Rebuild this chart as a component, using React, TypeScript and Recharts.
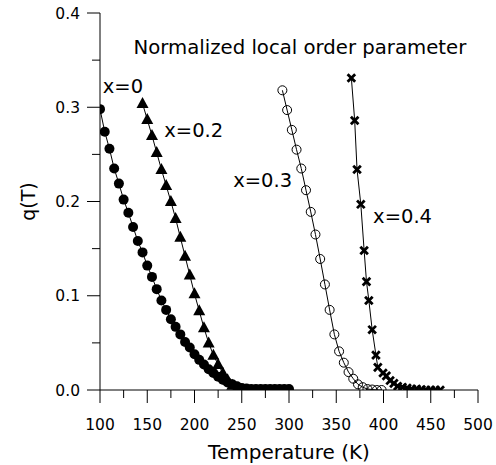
import React from "react";
import { LineChart, Line, XAxis, YAxis, ReferenceDot } from "recharts";

// temperature (K) and q(T) per composition
const x0Temp = [100, 105, 110, 115, 120, 125, 130, 135, 140, 145, 150, 155, 160, 165, 170, 175, 180, 185, 190, 195, 200, 205, 210, 215, 220, 225, 230, 235, 240, 245, 250, 255, 260, 265, 270, 275, 280, 285, 290, 295, 300];
const x0Q = [0.298, 0.274, 0.256, 0.235, 0.219, 0.202, 0.188, 0.173, 0.158, 0.146, 0.132, 0.12, 0.107, 0.095, 0.085, 0.075, 0.067, 0.059, 0.051, 0.045, 0.038, 0.032, 0.027, 0.022, 0.018, 0.014, 0.011, 0.008, 0.006, 0.004, 0.002, 0.0015, 0.001, 0.001, 0.001, 0.001, 0.001, 0.001, 0.001, 0.001, 0.001];

const x02Temp = [145, 150, 155, 160, 165, 170, 175, 180, 185, 190, 195, 200, 205, 210, 215, 220, 225, 230, 235, 240, 245];
const x02Q = [0.304, 0.287, 0.27, 0.252, 0.234, 0.217, 0.2, 0.182, 0.162, 0.142, 0.122, 0.102, 0.084, 0.066, 0.05, 0.037, 0.027, 0.018, 0.011, 0.005, 0.002];

const x03Temp = [293, 298, 303, 308, 313, 318, 323, 328, 333, 338, 343, 348, 353, 358, 363, 368, 373, 378, 383, 388, 393, 398];
const x03Q = [0.318, 0.297, 0.276, 0.255, 0.235, 0.212, 0.189, 0.165, 0.139, 0.112, 0.085, 0.059, 0.041, 0.029, 0.019, 0.012, 0.006, 0.003, 0.001, 0.0005, 0, 0];

const x04Temp = [366, 369.5, 372, 376, 379.5, 382, 384.5, 388, 392, 394, 399.5, 403, 407, 411, 415, 420, 425, 430, 435, 440, 445, 450, 455, 460];
const x04Q = [0.331, 0.286, 0.234, 0.197, 0.148, 0.115, 0.095, 0.064, 0.037, 0.024, 0.018, 0.015, 0.01, 0.007, 0.004, 0.003, 0.002, 0.001, 0.001, 0.0005, 0, 0, 0, 0];

const xTicks = [100, 125, 150, 175, 200, 225, 250, 275, 300, 325, 350, 375, 400, 425, 450, 475, 500];
const xTickLabels = [100, 150, 200, 250, 300, 350, 400, 450, 500];
const yTicks = [0, 0.05, 0.1, 0.15, 0.2, 0.25, 0.3, 0.35, 0.4];
const yTickLabels = ["0.0", "0.1", "0.2", "0.3", "0.4"];

// text annotations: [text, T, q]
const seriesLabels: [string, number, number][] = [
  ["x=0", 103, 0.315],
  ["x=0.2", 168, 0.268],
  ["x=0.3", 241, 0.215],
  ["x=0.4", 389, 0.177],
];

const FONT = "DejaVu Sans";

const rows = (t: number[], q: number[]) => t.map((T, i) => ({ T, q: q[i] }));

const XTick = ({ x, y, payload }: any) => {
  const major = xTickLabels.includes(payload.value);
  return (
    <g>
      <line x1={x} y1={y} x2={x} y2={y + (major ? 13 : 8)} stroke="#000" />
      {major && (
        <text x={x} y={y + 40} textAnchor="middle" fontFamily={FONT} fontSize={15.5} fill="#000">
          {payload.value}
        </text>
      )}
    </g>
  );
};

const YTick = ({ x, y, payload }: any) => {
  const idx = Math.round(payload.value * 100);
  const major = idx % 10 === 0;
  return (
    <g>
      <line x1={x - (major ? 13 : 8)} y1={y} x2={x} y2={y} stroke="#000" />
      {major && (
        <text x={x - 20} y={y} dy="0.36em" textAnchor="end" fontFamily={FONT} fontSize={15.5} fill="#000">
          {yTickLabels[idx / 10]}
        </text>
      )}
    </g>
  );
};

const FilledCircle = (p: any) => <circle key={p.index} cx={p.cx} cy={p.cy} r={5} fill="#000" />;
const Triangle = (p: any) => (
  <path key={p.index} d={`M${p.cx},${p.cy - 6.5}L${p.cx - 6},${p.cy + 4.5}L${p.cx + 6},${p.cy + 4.5}Z`} fill="#000" />
);
const OpenCircle = (p: any) => <circle key={p.index} cx={p.cx} cy={p.cy} r={4.5} fill="none" stroke="#000" strokeWidth={1} />;
const Cross = (p: any) => (
  <path key={p.index} d={`M${p.cx - 3.8},${p.cy - 3.8}L${p.cx + 3.8},${p.cy + 3.8}M${p.cx - 3.8},${p.cy + 3.8}L${p.cx + 3.8},${p.cy - 3.8}`} stroke="#000" strokeWidth={2.8} />
);

const textShape = (value: string, size: number, anchor: string, rotate = false) => (p: any) => (
  <text
    x={p.cx}
    y={p.cy}
    textAnchor={anchor}
    fontFamily={FONT}
    fontSize={size}
    fill="#000"
    transform={rotate ? `rotate(-90, ${p.cx}, ${p.cy})` : undefined}
    dy={rotate ? "0.36em" : undefined}
  >
    {value}
  </text>
);

export default function App() {
  return (
    <div style={{ position: "absolute", left: 0, top: 0 }}>
      <LineChart width={496} height={465} margin={{ top: 13, right: 18, bottom: 15, left: 20 }}>
        <XAxis
          type="number"
          dataKey="T"
          domain={[100, 500]}
          ticks={xTicks}
          interval={0}
          height={60}
          tickLine={false}
          tickSize={0}
          tickMargin={0}
          axisLine={{ stroke: "#000" }}
          tick={<XTick />}
          allowDataOverflow
        />
        <YAxis
          type="number"
          dataKey="q"
          domain={[0, 0.4]}
          ticks={yTicks}
          interval={0}
          width={80}
          tickLine={false}
          tickSize={0}
          tickMargin={0}
          axisLine={{ stroke: "#000" }}
          tick={<YTick />}
          allowDataOverflow
        />
        <Line data={rows(x0Temp, x0Q)} dataKey="q" type="linear" stroke="#000" strokeWidth={1} dot={FilledCircle} activeDot={false} isAnimationActive={false} />
        <Line data={rows(x02Temp, x02Q)} dataKey="q" type="linear" stroke="#000" strokeWidth={1} dot={Triangle} activeDot={false} isAnimationActive={false} />
        <Line data={rows(x03Temp, x03Q)} dataKey="q" type="linear" stroke="#000" strokeWidth={1} dot={OpenCircle} activeDot={false} isAnimationActive={false} />
        <Line data={rows(x04Temp, x04Q)} dataKey="q" type="linear" stroke="#000" strokeWidth={1} dot={Cross} activeDot={false} isAnimationActive={false} />
        {seriesLabels.map(([text, T, q]) => (
          <ReferenceDot key={text} x={T} y={q} r={0} ifOverflow="visible" shape={textShape(text, 19.5, "start")} />
        ))}
        <ReferenceDot x={311.5} y={0.357} r={0} ifOverflow="visible" shape={textShape("Normalized local order parameter", 19.7, "middle")} />
        <ReferenceDot x={300} y={-0.073} r={0} ifOverflow="visible" shape={textShape("Temperature (K)", 20, "middle")} />
        <ReferenceDot x={24.5} y={0.2} r={0} ifOverflow="visible" shape={textShape("q(T)", 19, "middle", true)} />
      </LineChart>
    </div>
  );
}
